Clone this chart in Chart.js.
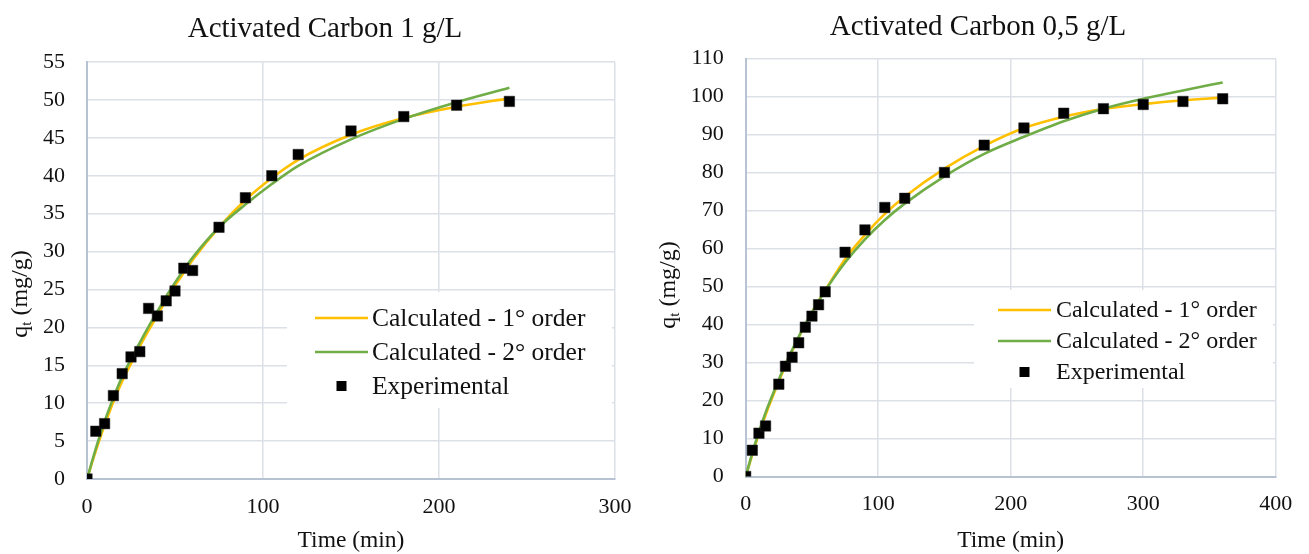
<!DOCTYPE html>
<html><head><meta charset="utf-8">
<script src="https://cdn.jsdelivr.net/npm/chart.js@4.4.0/dist/chart.umd.min.js"></script>
<style>
html,body{margin:0;padding:0;background:#fff;}
#wrap{position:relative;width:1309px;height:554px;background:#fff;}
canvas{position:absolute;top:0;}
</style></head><body>
<div id="wrap">
<canvas id="c1" width="654" height="554" style="left:0;width:654px;height:554px"></canvas>
<canvas id="c2" width="655" height="554" style="left:654px;width:655px;height:554px"></canvas>
</div>
<script>
// ---- texts ----
const titles = ['Activated Carbon 1 g/L', 'Activated Carbon 0,5 g/L'];
const legendLabels = ['Calculated - 1° order', 'Calculated - 2° order', 'Experimental'];
const xTitle = 'Time (min)';
const yTitleMain = 'q', yTitleSub = 't', yTitleRest = ' (mg/g)';

// ---- chart 1: 1 g/L ----
const time1 = [0, 5, 10, 15, 20, 25, 30, 35, 40, 45, 50, 55, 60, 75, 90, 105, 120, 150, 180, 210, 240];
const exp1 = [0, 6.3, 7.3, 11.0, 13.9, 16.1, 16.8, 22.5, 21.5, 23.5, 24.8, 27.8, 27.5, 33.2, 37.1, 40.0, 42.8, 45.9, 47.8, 49.3, 49.8];
const first1 = [0, 3.7, 7.1, 10.2, 12.9, 15.2, 17.5, 19.6, 21.6, 23.6, 25.5, 27.2, 28.9, 33.2, 36.8, 39.7, 42.1, 45.4, 47.6, 49.1, 50.2];
const second1 = [0, 4.0, 7.6, 10.7, 13.5, 15.8, 18.0, 20.1, 22.1, 24.1, 25.9, 27.6, 29.2, 33.2, 36.2, 38.9, 41.3, 44.8, 47.5, 49.7, 51.6];

// ---- chart 2: 0,5 g/L ----
const time2 = [0, 5, 10, 15, 25, 30, 35, 40, 45, 50, 55, 60, 75, 90, 105, 120, 150, 180, 210, 240, 270, 300, 330, 360];
const exp2 = [0, 6.9, 11.4, 13.3, 24.3, 29.0, 31.4, 35.2, 39.3, 42.2, 45.2, 48.6, 59.0, 64.9, 70.8, 73.2, 80.0, 87.2, 91.7, 95.6, 96.8, 97.9, 98.7, 99.4];
const first2 = [0, 5.8, 11.3, 16.2, 25.0, 29.2, 33.0, 36.6, 40.0, 43.2, 46.2, 49.0, 57.2, 63.6, 69.1, 73.6, 81.0, 87.0, 91.7, 94.7, 96.7, 98.0, 99.0, 99.7];
const second2 = [0, 6.2, 11.8, 16.8, 25.5, 29.6, 33.3, 36.8, 40.1, 43.2, 46.1, 48.9, 56.3, 62.4, 67.5, 71.8, 79.0, 84.9, 89.4, 93.5, 96.8, 99.4, 101.6, 103.7];

// ---- axis ranges / ticks ----
const xMax1 = 300, yMax1 = 55, yStep1 = 5;
const xMax2 = 400, yMax2 = 110, yStep2 = 10;
const xStep = 100;

const FONT = "'Liberation Serif', 'Times New Roman', serif";
const TXT = '#111111';
const GRID = '#DCE0E7';
const AXIS = '#B7C2D2';
const ORANGE = '#FFC000';
const GREEN = '#70AD47';

function pts(xs, ys) { return xs.map((x, i) => ({ x: x, y: ys[i] })); }

function makeChart(id, c) {
  const decor = {
    id: 'decor',
    afterDraw(chart) {
      const ctx = chart.ctx;
      ctx.save();
      // title
      ctx.fillStyle = TXT;
      ctx.font = '29px ' + FONT;
      ctx.textAlign = 'center';
      ctx.textBaseline = 'middle';
      ctx.fillText(c.title, c.titleX, c.titleY);
      // y axis title with subscript
      ctx.save();
      ctx.translate(c.yTitleX, c.yTitleY);
      ctx.rotate(-Math.PI / 2);
      ctx.textAlign = 'left';
      ctx.textBaseline = 'middle';
      ctx.font = '24px ' + FONT;
      const wq = ctx.measureText(yTitleMain).width;
      const wr = ctx.measureText(yTitleRest).width;
      ctx.font = '15px ' + FONT;
      const ws = ctx.measureText(yTitleSub).width;
      let x0 = -(wq + ws + wr) / 2;
      ctx.font = '24px ' + FONT;
      ctx.fillText(yTitleMain, x0, 0);
      ctx.font = '15px ' + FONT;
      ctx.fillText(yTitleSub, x0 + wq, 6);
      ctx.font = '24px ' + FONT;
      ctx.fillText(yTitleRest, x0 + wq + ws, 0);
      ctx.restore();
      // legend
      const L = c.legend;
      ctx.fillStyle = '#ffffff';
      ctx.fillRect(L.x, L.y, L.w, L.h);
      ctx.font = L.font + 'px ' + FONT;
      ctx.textAlign = 'left';
      ctx.textBaseline = 'middle';
      const cols = [ORANGE, GREEN];
      for (let i = 0; i < 3; i++) {
        const ry = L.rows[i];
        if (i < 2) {
          ctx.strokeStyle = cols[i];
          ctx.lineWidth = 2.6;
          ctx.beginPath();
          ctx.moveTo(L.sx0, ry);
          ctx.lineTo(L.sx1, ry);
          ctx.stroke();
        } else {
          ctx.fillStyle = '#000';
          ctx.fillRect((L.sx0 + L.sx1) / 2 - 5, ry - 5, 10, 10);
        }
        ctx.fillStyle = TXT;
        ctx.fillText(legendLabels[i], L.tx, ry + 1);
      }
      ctx.restore();
    }
  };

  const lineBase = { showLine: true, pointRadius: 0, borderWidth: 2.6, tension: 0.4, cubicInterpolationMode: 'monotone', fill: false };
  return new Chart(document.getElementById(id), {
    type: 'scatter',
    data: {
      datasets: [
        Object.assign({ label: legendLabels[0], data: pts(c.time, c.first), borderColor: ORANGE, backgroundColor: ORANGE, order: 2 }, lineBase),
        Object.assign({ label: legendLabels[1], data: pts(c.time, c.second), borderColor: GREEN, backgroundColor: GREEN, order: 1 }, lineBase),
        { label: legendLabels[2], data: pts(c.time, c.exp), showLine: false, pointStyle: 'rect', pointRadius: 7.4, pointHoverRadius: 7.4,
          backgroundColor: '#000', borderColor: '#222', borderWidth: 0.5, order: 0 }
      ]
    },
    options: {
      responsive: false, animation: false, devicePixelRatio: 1,
      layout: { padding: { top: c.top, right: c.right, left: 0, bottom: 0 } },
      plugins: { legend: { display: false }, title: { display: false }, tooltip: { enabled: false } },
      scales: {
        x: {
          type: 'linear', min: 0, max: c.xMax,
          ticks: { stepSize: xStep, padding: 15, color: TXT, font: { family: FONT, size: 22 } },
          grid: { color: GRID, lineWidth: 1.5, drawTicks: false },
          border: { color: AXIS, width: 2 },
          title: { display: true, text: xTitle, color: TXT, font: { family: FONT, size: 23.5, lineHeight: 1.0 }, padding: { top: 0, bottom: 1 } },
          afterFit(s) { s.height = c.xh; }
        },
        y: {
          type: 'linear', min: 0, max: c.yMax,
          ticks: { stepSize: c.yStep, padding: 22, color: TXT, font: { family: FONT, size: 22 } },
          grid: { color: GRID, lineWidth: 1.5, drawTicks: false },
          border: { color: AXIS, width: 2 },
          afterFit(s) { s.width = c.yw; }
        }
      }
    },
    plugins: [decor]
  });
}

makeChart('c1', {
  time: time1, exp: exp1, first: first1, second: second1,
  xMax: xMax1, yMax: yMax1, yStep: yStep1,
  top: 62, right: 39, yw: 87, xh: 75,
  title: titles[0], titleX: 325, titleY: 29,
  yTitleX: 21, yTitleY: 294,
  legend: { x: 287, y: 292, w: 325, h: 116, rows: [318, 352, 386], sx0: 315, sx1: 368, tx: 372, font: 25.5 }
});
makeChart('c2', {
  time: time2, exp: exp2, first: first2, second: second2,
  xMax: xMax2, yMax: yMax2, yStep: yStep2,
  top: 58.5, right: 33.3, yw: 91.7, xh: 77.5,
  title: titles[1], titleX: 324, titleY: 27,
  yTitleX: 15, yTitleY: 285,
  legend: { x: 320, y: 290, w: 299, h: 98, rows: [310, 341, 372], sx0: 344, sx1: 397, tx: 402, font: 24 }
});
</script>
</body></html>
